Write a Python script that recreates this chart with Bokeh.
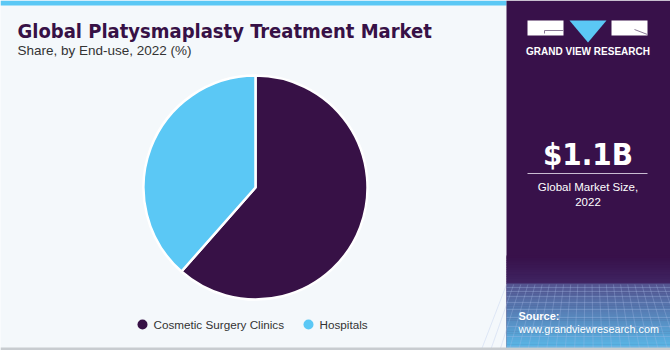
from bokeh.plotting import figure
from bokeh.models import Range1d, ColumnDataSource
from bokeh.core.properties import value
from bokeh.embed import file_html
from bokeh.resources import INLINE
import numpy as np

# ---- data ----
categories = ["Cosmetic Surgery Clinics", "Hospitals"]
shares = [61.5, 38.5]
colors = ["#371146", "#5bc8f5"]
title = "Global Platysmaplasty Treatment Market"
subtitle = "Share, by End-use, 2022 (%)"
market_size = "$1.1B"
market_label = ["Global Market Size,", "2022"]

W, H = 670, 350
p = figure(width=W, height=H, output_backend="svg", toolbar_location=None,
           x_range=Range1d(0, W), y_range=Range1d(H, 0), min_border=0)
p.axis.visible = False
p.grid.visible = False
p.outline_line_color = None
p.background_fill_color = "#f4f8fb"
p.border_fill_color = "#f4f8fb"

# left panel top bar
p.quad(left=0, right=506, top=0, bottom=5, fill_color="#5bc8f5", line_color=None)

# right panel
p.quad(left=506, right=W, top=0, bottom=H, fill_color="#38114a", line_color=None)


def mix(a, b, t):
    c = (np.array(a) * (1 - t) + np.array(b) * t).astype(int)
    return "#%02x%02x%02x" % tuple(c)


# subtle darkening above horizon
n = 12
ys = np.linspace(255, 283, n + 1)
for i in range(n):
    p.quad(left=506, right=W, top=ys[i], bottom=ys[i + 1] + 0.5,
           fill_color=mix([0x38, 0x11, 0x4a], [0x40, 0x24, 0x62], i / (n - 1)), line_color=None)
# gradient below horizon
n = 30
ys = np.linspace(283, 348, n + 1)
for i in range(n):
    p.quad(left=506, right=W, top=ys[i], bottom=ys[i + 1] + 0.5,
           fill_color=mix([0x55, 0x55, 0x90], [0x5a, 0xb8, 0xe8], i / (n - 1)), line_color=None)
# faint mesh
for xv in np.linspace(506, W, 24):
    p.segment(x0=xv, y0=284, x1=xv + (xv - 588) * 0.3, y1=348, line_color="#a8bde8", line_alpha=0.3, line_width=1)
for yv in [287, 291, 296, 302, 309, 317, 326, 336, 346]:
    p.segment(x0=506, y0=yv, x1=W, y1=yv, line_color="#a8bde8", line_alpha=0.3, line_width=1)

# bottom grey line
p.quad(left=0, right=W, top=347, bottom=H, fill_color="#c8ccd0", line_color=None)

# logo
p.quad(left=527, right=563, top=20, bottom=35, fill_color="white", line_color=None)
p.segment(x0=544, y0=30, x1=563, y1=30, line_color="#8a7a96", line_width=1)
p.segment(x0=544, y0=30, x1=544, y1=33, line_color="#8a7a96", line_width=1)
p.patch(x=[569, 606, 587.5], y=[20, 20, 42], fill_color="#5bc8f5", line_color=None)
p.quad(left=611, right=647, top=20, bottom=35, fill_color="white", line_color=None)
p.segment(x0=634, y0=29, x1=647, y1=34, line_color="#8a7a96", line_width=1)
p.text(x=[587.5], y=[51], text=["GRAND VIEW RESEARCH"], text_color="white",
       text_font=value("Liberation Sans"), text_font_style="bold", text_font_size="10px",
       text_align="center", text_baseline="middle")

# market size
p.text(x=[587.5], y=[153], text=[market_size], text_color="white",
       text_font=value("DejaVu Sans Condensed"), text_font_style="bold", text_font_size="31px",
       text_align="center", text_baseline="middle")
p.segment(x0=527, y0=173, x1=647, y1=173, line_color="#c9bcd2", line_width=1)
p.text(x=[587.5, 587.5], y=[186, 201], text=market_label, text_color="white",
       text_font=value("Liberation Sans"), text_font_size="11.5px",
       text_align="center", text_baseline="middle")

# source
p.text(x=[518], y=[315], text=["Source:"], text_color="white",
       text_font=value("Liberation Sans"), text_font_style="bold", text_font_size="11px",
       text_align="left", text_baseline="middle")
p.text(x=[518], y=[328.5], text=["www.grandviewresearch.com"], text_color="white",
       text_font=value("Liberation Sans"), text_font_size="10.8px",
       text_align="left", text_baseline="middle")

# titles
p.text(x=[17], y=[30], text=[title], text_color="#371146",
       text_font=value("DejaVu Sans Condensed"), text_font_style="bold", text_font_size="20px",
       text_align="left", text_baseline="middle")
p.text(x=[17], y=[50], text=[subtitle], text_color="#333333",
       text_font=value("Liberation Sans"), text_font_size="13.5px",
       text_align="left", text_baseline="middle")

# pie: clockwise from 12 o'clock (angles are screen-space, counterclockwise)
fr = np.array(shares) / sum(shares)
ends = np.cumsum(fr) * 2 * np.pi
starts = ends - fr * 2 * np.pi
src = ColumnDataSource(dict(cat=categories, start=np.pi / 2 - ends, end=np.pi / 2 - starts,
                            color=colors))
p.wedge(x=255, y=187, radius=112, start_angle="start", end_angle="end",
        fill_color="color", line_color="white", line_width=2.5, source=src)

# legend
lx = [142, 308]
p.scatter(x=lx, y=[324, 324], size=10, fill_color=colors, line_color=None)
p.text(x=[x + 11 for x in lx], y=[324, 324], text=categories, text_color="#333333",
       text_font=value("Liberation Sans"), text_font_size="11.7px",
       text_align="left", text_baseline="middle")

open("out.html", "w").write(file_html(p, INLINE))
